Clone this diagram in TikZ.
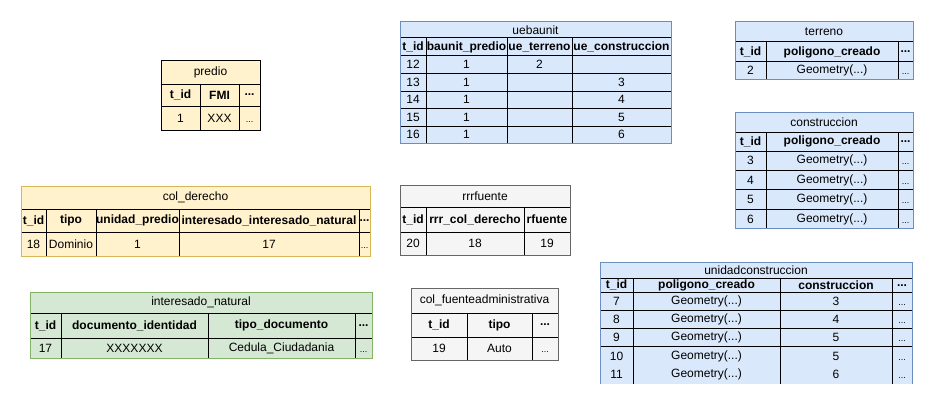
\documentclass[tikz,border=0pt]{standalone}
\usepackage{fontspec}
\setmainfont{Liberation Sans}
\definecolor{yelfill}{HTML}{FFF2CC}
\definecolor{yeldraw}{HTML}{D6B656}
\definecolor{blufill}{HTML}{DAE8FC}
\definecolor{bludraw}{HTML}{6C8EBF}
\definecolor{grnfill}{HTML}{D5E8D4}
\definecolor{grndraw}{HTML}{82B366}
\definecolor{gryfill}{HTML}{F5F5F5}
\definecolor{grydraw}{HTML}{666666}
\newcommand\elide{...}
\newcommand\smalldots{\vphantom{0}{\fontsize{9}{10}\selectfont...}}
\begin{document}
\begin{tikzpicture}[x=1pt,y=-1pt,
    cell/.style={draw=black,line width=1pt,anchor=north west,inner sep=0pt,outer sep=0pt,
      font=\fontsize{12}{14}\selectfont},
    head/.style={cell,font=\fontsize{12}{14}\selectfont\bfseries},
    yel/.style={fill=yelfill},
    blu/.style={fill=blufill},
    grn/.style={fill=grnfill},
    gry/.style={fill=gryfill},
    yelbox/.style={draw=yeldraw,line width=1pt},
    blubox/.style={draw=bludraw,line width=1pt},
    grnbox/.style={draw=grndraw,line width=1pt},
    grybox/.style={draw=grydraw,line width=1pt}]
  \fill[white] (0,0) rectangle (934,404);
  \useasboundingbox (0,0) rectangle (934,404);

  \node[cell,yel,minimum width=99pt,minimum height=23pt] (predio) at (161,61) {predio};
  \foreach \x/\w/\t [count=\i] in {161/39/t\_id,200/39/FMI,239/21/\elide}
    \node[head,yel,minimum width=\w pt,minimum height=22pt] (predio-h\i) at (\x,84) {\t};
  \foreach \x/\w/\t [count=\i] in {161/39/1,200/39/XXX,239/21/\smalldots}
    \node[cell,yel,minimum width=\w pt,minimum height=24pt] (predio-d\i) at (\x,106) {\t};
  \draw[line width=1pt] (predio.north west) rectangle (predio-d3.south east);

  \node[cell,yel,minimum width=349pt,minimum height=23pt] (colder) at (21,186) {col\_derecho};
  \foreach \x/\w/\t [count=\i] in {21/25/t\_id,46/50/tipo,96/83/unidad\_predio,
      179/180/interesado\_interesado\_natural,359/11/\elide}
    \node[head,yel,minimum width=\w pt,minimum height=23pt] (colder-h\i) at (\x,209) {\t};
  \foreach \x/\w/\t [count=\i] in {21/25/18,46/50/Dominio,96/83/1,179/180/17,359/11/\smalldots}
    \node[cell,yel,minimum width=\w pt,minimum height=24pt] (colder-d\i) at (\x,232) {\t};
  \draw[yelbox] (colder.north west) rectangle (colder-d5.south east);

  \node[cell,grn,minimum width=342pt,minimum height=21pt] (intnat) at (30,292) {interesado\_natural};
  \foreach \x/\w/\t [count=\i] in {30/31/t\_id,61/147/documento\_identidad,
      208/147/tipo\_documento,355/17/\elide}
    \node[head,grn,minimum width=\w pt,minimum height=25pt] (intnat-h\i) at (\x,313) {\t};
  \foreach \x/\w/\t [count=\i] in {30/31/17,61/147/XXXXXXX,208/147/Cedula\_Ciudadania,355/17/\smalldots}
    \node[cell,grn,minimum width=\w pt,minimum height=20pt] (intnat-d\i) at (\x,338) {\t};
  \draw[grnbox] (intnat.north west) rectangle (intnat-d4.south east);

  \node[cell,blu,minimum width=271pt,minimum height=16pt] (ueb) at (400,22) {uebaunit};
  \foreach \x/\w/\t [count=\i] in {400/26/t\_id,426/81/baunit\_predio,507/65/ue\_terreno,
      572/99/ue\_construccion}
    \node[head,blu,minimum width=\w pt,minimum height=18pt] (ueb-h\i) at (\x,38) {\t};
  \foreach \a/\b/\c/\d [count=\j] in {12/1/2/{},13/1/{}/3,14/1/{}/4,15/1/{}/5,16/1/{}/6}{
    \pgfmathsetmacro\y{56+17.5*(\j-1)}
    \foreach \x/\w/\t [count=\i] in {400/26/\a,426/81/\b,507/65/\c,572/99/\d}
      \node[cell,blu,minimum width=\w pt,minimum height=17.5pt] (ueb-\j-\i) at (\x,\y) {\t};
  }
  \draw[blubox] (ueb.north west) rectangle (ueb-5-4.south east);

  \node[cell,gry,minimum width=170pt,minimum height=22pt] (rrr) at (400,185) {rrrfuente};
  \foreach \x/\w/\t [count=\i] in {400/26/t\_id,426/98/rrr\_col\_derecho,524/46/rfuente}
    \node[head,gry,minimum width=\w pt,minimum height=25pt] (rrr-h\i) at (\x,207) {\t};
  \foreach \x/\w/\t [count=\i] in {400/26/20,426/98/18,524/46/19}
    \node[cell,gry,minimum width=\w pt,minimum height=23pt] (rrr-d\i) at (\x,232) {\t};
  \draw[grybox] (rrr.north west) rectangle (rrr-d3.south east);

  \node[cell,gry,minimum width=147pt,minimum height=25pt] (fuente) at (411,288) {col\_fuenteadministrativa};
  \foreach \x/\w/\t [count=\i] in {411/56/t\_id,467/65/tipo,532/26/\elide}
    \node[head,gry,minimum width=\w pt,minimum height=24pt] (fuente-h\i) at (\x,313) {\t};
  \foreach \x/\w/\t [count=\i] in {411/56/19,467/65/Auto,532/26/\smalldots}
    \node[cell,gry,minimum width=\w pt,minimum height=23pt] (fuente-d\i) at (\x,337) {\t};
  \draw[grybox] (fuente.north west) rectangle (fuente-d3.south east);

  \node[cell,blu,minimum width=178pt,minimum height=20pt] (ter) at (735,22) {terreno};
  \foreach \x/\w/\t [count=\i] in {735/31/t\_id,766/132/poligono\_creado,898/15/\elide}
    \node[head,blu,minimum width=\w pt,minimum height=20pt] (ter-h\i) at (\x,42) {\t};
  \foreach \x/\w/\t [count=\i] in {735/31/2,766/132/Geometry(\elide),898/15/\smalldots}
    \node[cell,blu,minimum width=\w pt,minimum height=17pt] (ter-d\i) at (\x,62) {\t};
  \draw[blubox] (ter.north west) rectangle (ter-d3.south east);

  \node[cell,blu,minimum width=178pt,minimum height=20pt] (cons) at (735,112) {construccion};
  \foreach \x/\w/\t [count=\i] in {735/31/t\_id,766/132/poligono\_creado,898/15/\elide}
    \node[head,blu,minimum width=\w pt,minimum height=19pt] (cons-h\i) at (\x,132) {\t};
  \foreach \a [count=\j] in {3,4,5,6}{
    \pgfmathsetmacro\y{151+19.4*(\j-1)}
    \foreach \x/\w/\t [count=\i] in {735/31/\a,766/132/Geometry(\elide),898/15/\smalldots}
      \node[cell,blu,minimum width=\w pt,minimum height=19.4pt] (cons-\j-\i) at (\x,\y) {\t};
  }
  \draw[blubox] (cons.north west) rectangle (cons-4-3.south east);

  \node[cell,blu,minimum width=312pt,minimum height=16.5pt] (uc) at (600,262) {unidadconstruccion};
  \foreach \x/\w/\t [count=\i] in {600/33/t\_id,633/147/poligono\_creado,780/112/construccion,892/20/\elide}
    \node[head,blu,minimum width=\w pt,minimum height=13.5pt] (uc-h\i) at (\x,278.5) {\t};
  \foreach \a/\b [count=\j] in {7/3,8/4,9/5,10/5}{
    \pgfmathsetmacro\y{292+18.3*(\j-1)}
    \foreach \x/\w/\t [count=\i] in {600/33/\a,633/147/Geometry(\elide),780/112/\b,892/20/\smalldots}
      \node[cell,blu,minimum width=\w pt,minimum height=18.3pt] (uc-\j-\i) at (\x,\y) {\t};
  }
  \foreach \x/\w/\t [count=\i] in {600/33/11,633/147/Geometry(\elide),780/112/6,892/20/\smalldots}
    \node[cell,blu,draw=none,minimum width=\w pt,minimum height=18.3pt] (uc-5-\i) at (\x,365.2) {\t};
  \foreach \i in {1,2,3}
    \draw[line width=1pt] (uc-5-\i.north east) -- (uc-5-\i.south east);
  \draw[blubox] (uc-5-1.south west) |- (uc.north east) -- (uc-5-4.south east);
\end{tikzpicture}
\end{document}
